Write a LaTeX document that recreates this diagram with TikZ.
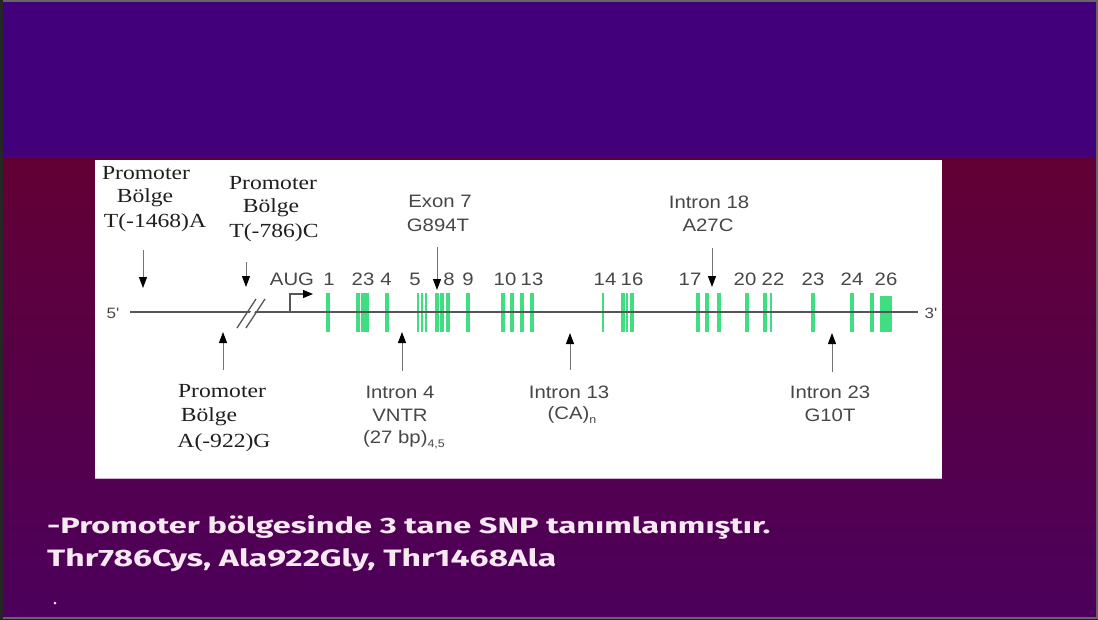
\documentclass[tikz,border=0pt]{standalone}
\usepackage{graphicx}
\usepackage{fontspec}
\setmainfont{Liberation Serif}
\newfontfamily\arialf{Liberation Sans}
\newfontfamily\comicf{Fira Sans}
\usetikzlibrary{arrows.meta}
\definecolor{topviolet}{RGB}{67,0,123}
\definecolor{maroon}{RGB}{98,0,52}
\definecolor{lowviolet}{RGB}{76,0,92}
\definecolor{exgreen}{RGB}{64,222,128}
\definecolor{genegray}{RGB}{85,85,85}
\definecolor{slidetext}{RGB}{248,232,242}
\newcommand\sx[1]{\scalebox{1.18}[1]{#1}}
\newcommand\sxs[1]{\scalebox{1.13}[1]{#1}}
\begin{document}
\begin{tikzpicture}[x=1pt,y=-1pt,
  serif/.style={font=\fontsize{20}{22}\selectfont, text=black!88, inner sep=0pt},
  sans/.style={font=\arialf\fontsize{18}{20}\selectfont, text=black!72, inner sep=0pt},
  small sans/.style={font=\arialf\fontsize{15}{17}\selectfont, text=black!72, inner sep=0pt},
  exon/.style={draw=exgreen, line width=3.4pt},
  thinexon/.style={draw=exgreen, line width=2.2pt},
  snp/.style={draw=black!55, line width=1pt, -{Triangle[length=11pt,width=8pt,color=black,fill=black]}},
  slidefont/.style={inner sep=0pt, text=slidetext, anchor=base west},
]
\useasboundingbox (0,0) rectangle (1098,619);
% background
\fill[topviolet] (0,0) rectangle (1098,158);
\shade[top color=maroon, bottom color=lowviolet] (0,158) rectangle (1098,619);
\draw[black!60, line width=2pt] (1,1) rectangle (1097,618);
\fill[black!85] (0,0) rectangle (3,619);
% white panel
\fill[white] (95,160) rectangle (942,478);
\draw[violet!30, line width=1pt] (95,478) -- (942,478);

% exons
\foreach \x in {328,358,363,367,387,437,442,448,468,503,512,522,532,623,632,698,707,719,747,765,813,852,872}
  \draw[exon] (\x,293) -- (\x,332);
\foreach \x in {418,422,426,603,627,771}
  \draw[thinexon] (\x,293) -- (\x,332);
\fill[exgreen] (880,296) rectangle (892,332);

% gene line
\coordinate (g0) at (130,312);
\coordinate (g1) at (918,312);
\draw[genegray, line width=2.3pt] (g0) -- (g1);
% break marks
\fill[white] (241,327) -- (259,299) -- (263,299) -- (245,327) -- cycle;
\draw[genegray, line width=1.3pt] (237,328) -- (256,299);
\draw[genegray, line width=1.3pt] (246,328) -- (265,299);
% transcription start
\coordinate (tss0) at (290,312);
\coordinate (tss1) at (290,294);
\coordinate (tss2) at (313,294);
\draw[genegray, line width=1.1pt, -{Triangle[length=10pt,width=8pt,color=black,fill=black]}] (tss0) -- (tss1) -- (tss2);

\node[small sans] (five) at (113,313) {\sxs{5'}};
\node[small sans] (three) at (931,313) {\sxs{3'}};
\node[sans] (aug) at (292,279) {\sxs{AUG}};

% exon numbers
\foreach \n/\x/\t in {n1/329/1, n23/363/23, n4/386/4, n5/415/5, n8/449/8, n9/468/9, n10/505/10, n13/532/13, n14/605/14, n16/632/16, n17/690/17, n20/745/20, n22/773/22, n23b/813/23, n24/852/24, n26/886/26}
  \node[sans] (\n) at (\x,279) {\sxs{\t}};

% Promoter T(-1468)A
\node[serif] (pa1) at (146,173) {\sx{Promoter}};
\node[serif] (pa2) at (145,198) {\sx{Bölge}};
\node[serif] (pa3) at (155,223) {\sx{T(-1468)A}};
\coordinate (pat) at (143,250);
\coordinate (pah) at (143,288);
\draw[snp] (pat) -- (pah);

% Promoter T(-786)C
\node[serif] (pb1) at (273,183) {\sx{Promoter}};
\node[serif] (pb2) at (271,208) {\sx{Bölge}};
\node[serif] (pb3) at (274,233) {\sx{T(-786)C}};
\coordinate (pbt) at (246,262);
\coordinate (pbh) at (246,287);
\draw[snp] (pbt) -- (pbh);

% Promoter A(-922)G
\coordinate (pct) at (223,370);
\coordinate (pch) at (223,332);
\draw[snp] (pct) -- (pch);
\node[serif] (pc1) at (222,391) {\sx{Promoter}};
\node[serif] (pc2) at (209,417) {\sx{Bölge}};
\node[serif] (pc3) at (224,443) {\sx{A(-922)G}};

% Exon 7
\node[sans] (ex1) at (440,201) {\sxs{Exon 7}};
\node[sans] (ex2) at (438,225) {\sxs{G894T}};
\coordinate (ext) at (437,247);
\coordinate (exh) at (437,290);
\draw[snp] (ext) -- (exh);

% Intron 18
\node[sans] (i18a) at (709,202) {\sxs{Intron 18}};
\node[sans] (i18b) at (708,225) {\sxs{A27C}};
\coordinate (i18t) at (712,248);
\coordinate (i18h) at (712,287);
\draw[snp] (i18t) -- (i18h);

% Intron 4
\coordinate (i4t) at (402,371);
\coordinate (i4h) at (402,332);
\draw[snp] (i4t) -- (i4h);
\node[sans] (i4a) at (400,392) {\sxs{Intron 4}};
\node[sans] (i4b) at (400,415) {\sxs{VNTR}};
\node[sans] (i4c) at (404,440) {\sxs{(27 bp)\raisebox{-4pt}{\fontsize{11}{11}\selectfont 4,5}}};

% Intron 13
\coordinate (i13t) at (570,370);
\coordinate (i13h) at (570,333);
\draw[snp] (i13t) -- (i13h);
\node[sans] (i13a) at (569,392) {\sxs{Intron 13}};
\node[sans] (i13b) at (572,415) {\sxs{(CA)\raisebox{-4pt}{\fontsize{11}{11}\selectfont n}}};

% Intron 23
\coordinate (i23t) at (832,372);
\coordinate (i23h) at (832,333);
\draw[snp] (i23t) -- (i23h);
\node[sans] (i23a) at (830,392) {\sxs{Intron 23}};
\node[sans] (i23b) at (830,415) {\sxs{G10T}};

% slide text
\node[slidefont] (s1) at (47,533) {\resizebox{723pt}{18pt}{\comicf\bfseries -Promoter bölgesinde 3 tane SNP tanımlanmıştır.}};
\node[slidefont] (s2) at (47,566) {\resizebox{509pt}{18pt}{\comicf\bfseries Thr786Cys, Ala922Gly, Thr1468Ala}};
\fill[slidetext] (55,603) circle (1.5pt);
\end{tikzpicture}
\end{document}
